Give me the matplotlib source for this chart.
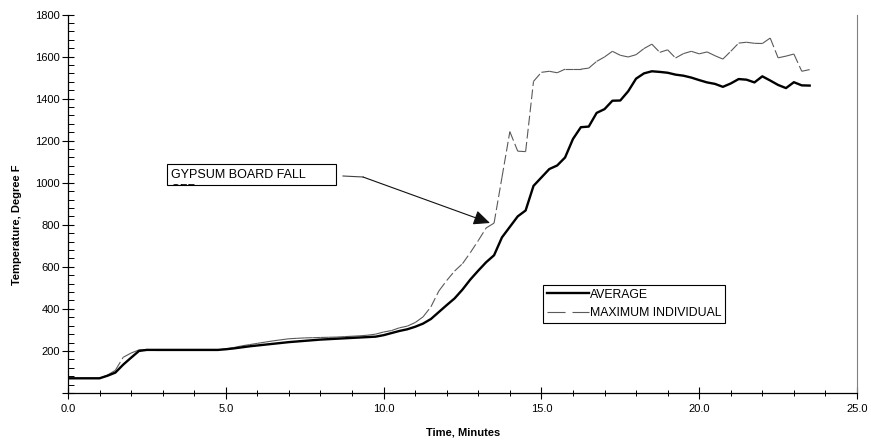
"""
Room temperature vs time during the fire test: average and maximum individual thermocouple.
"""

import matplotlib
matplotlib.use("Agg")
import matplotlib.pyplot as plt
import numpy as np
from matplotlib.collections import LineCollection
from matplotlib.lines import Line2D
from matplotlib.patches import Rectangle

plt.rcParams['font.family'] = ['Liberation Sans', 'DejaVu Sans']
plt.rcParams['lines.scale_dashes'] = False

# time in minutes, one reading every 15 s
time_min = np.arange(0, 23.51, 0.25)

average = [
    70, 70, 70, 70, 70, 82, 97, 135, 168, 200,            # 0.00 - 2.25
    205, 205, 205, 205, 205, 205, 205, 205, 205, 205,     # 2.50 - 4.75
    208, 212, 217, 222, 226, 230, 234, 238, 242, 245,     # 5.00 - 7.25
    248, 251, 254, 256, 258, 260, 262, 264, 266, 268,     # 7.50 - 9.75
    275, 285, 295, 303, 315, 330, 352, 385, 418, 450,     # 10.00 - 12.25
    492, 540, 582, 622, 655, 740, 790, 840, 868, 985,     # 12.50 - 14.75
    1025, 1065, 1082, 1120, 1208, 1264, 1267, 1332, 1350, 1390,  # 15.00 - 17.25
    1391, 1435, 1495, 1520, 1530, 1527, 1523, 1514, 1509, 1500,  # 17.50 - 19.75
    1488, 1477, 1470, 1456, 1472, 1493, 1490, 1477, 1506, 1486,  # 20.00 - 22.25
    1465, 1450, 1478, 1463, 1462,                                # 22.50 - 23.50
]

maximum = [
    70, 70, 70, 70, 70, 85, 108, 170, 190, 205,
    207, 205, 205, 205, 205, 205, 205, 205, 205, 205,
    210, 216, 224, 230, 236, 242, 248, 253, 258, 260,
    262, 263, 264, 265, 266, 268, 270, 272, 275, 280,
    290, 297, 310, 318, 335, 362, 410, 485, 535, 580,
    615, 668, 725, 785, 808, 1025, 1243, 1150, 1148, 1482,
    1525, 1530, 1523, 1540, 1540, 1540, 1545, 1577, 1598, 1625,
    1606, 1598, 1609, 1638, 1659, 1620, 1632, 1593, 1614, 1625,
    1613, 1622, 1604, 1588, 1625, 1664, 1668, 1663, 1662, 1688,
    1594, 1602, 1612, 1530, 1538,
]

x_ticks = [0, 5, 10, 15, 20, 25]
y_ticks = [0, 200, 400, 600, 800, 1000, 1200, 1400, 1600, 1800]

W, H = 871, 444
fig = plt.figure(figsize=(W / 100, H / 100), dpi=100)
ax = fig.add_axes([68 / W, 1 - 393 / H, (857 - 68) / W, (393 - 14.5) / H])

MAX_COLOR = '#5a5a5a'

# Excel restarts the dash pattern on every segment, so short steps look solid
pts = np.column_stack([time_min, maximum])
segs = np.stack([pts[:-1], pts[1:]], axis=1)
ax.add_collection(LineCollection(segs, colors=MAX_COLOR, linewidths=0.8,
                                 linestyles=[(0, (7, 2.5))], zorder=2))
ax.plot(time_min, average, color='black', lw=1.7, zorder=3)

ax.set_xlim(0, 25)
ax.set_ylim(0, 1800)
ax.set_xticks(x_ticks)
ax.set_xticklabels([f'{v:.1f}' for v in x_ticks])
ax.set_xticks(np.arange(0, 25.1, 1), minor=True)
ax.set_yticks(y_ticks)
ax.set_yticklabels(['' if v == 0 else str(v) for v in y_ticks])
ax.set_yticks(np.arange(0, 1801, 40), minor=True)

ax.tick_params(axis='both', which='major', direction='inout', length=8, width=0.8,
               labelsize=8, colors='black')
ax.tick_params(axis='y', which='major', pad=2)
ax.tick_params(axis='x', which='major', pad=4)
ax.tick_params(axis='y', which='minor', direction='in', length=4, width=0.7)
ax.tick_params(axis='x', which='minor', direction='inout', length=4, width=0.7)

ax.spines['top'].set_visible(False)
ax.spines['right'].set_color('#808080')
ax.spines['right'].set_linewidth(0.8)
for side in ('left', 'bottom'):
    ax.spines[side].set_linewidth(0.9)

label_font = ['Liberation Sans Narrow', 'Liberation Sans', 'DejaVu Sans']
fig.text(463 / W, 1 - 432 / H, 'Time, Minutes', ha='center', va='center',
         fontsize=8, fontweight='bold', family=label_font)
fig.text(17 / W, 1 - 225 / H, 'Temperature, Degree F', ha='center', va='center',
         rotation=90, fontsize=8, fontweight='bold', family=label_font)

# annotation box, second line of its text is cut off by the box edge
box = Rectangle((167 / W, 1 - 185 / H), (336 - 167) / W, (185 - 164) / H,
                transform=fig.transFigure, facecolor='white', edgecolor='black',
                linewidth=0.8, zorder=4)
fig.add_artist(box)
fig.text(171 / W, 1 - 174.5 / H, 'GYPSUM BOARD FALL', ha='left', va='center',
         fontsize=9, zorder=5)
cut = fig.text(170 / W, 1 - 184 / H, 'OFF', ha='left', va='top',
               fontsize=9, zorder=5)
cut.set_clip_path(box)

def px_to_data(px, py):
    return ax.transData.inverted().transform(fig.transFigure.transform((px / W, 1 - py / H)))

p0 = px_to_data(343, 176)
p1 = px_to_data(363, 177)
tip = px_to_data(490, 223)
ax.plot([p0[0], p1[0]], [p0[1], p1[1]], color='#404040', lw=0.8, zorder=4, clip_on=False)
ax.annotate('', xy=tip, xytext=p1,
            arrowprops=dict(arrowstyle='-|>,head_length=1.0,head_width=0.45',
                            color='#101010', lw=0.8, shrinkA=0, shrinkB=0), zorder=4)

handles = [
    Line2D([], [], color='black', lw=1.7),
    Line2D([], [], color=MAX_COLOR, lw=0.8, linestyle=(0, (13, 5))),
]
leg = fig.legend(handles, ['AVERAGE', 'MAXIMUM INDIVIDUAL'], loc='upper left',
                 bbox_to_anchor=(543 / W, 1 - 285 / H), bbox_transform=fig.transFigure,
                 fontsize=8.8, frameon=True, fancybox=False, framealpha=1,
                 handlelength=3.5, handletextpad=0.05, labelspacing=0.55,
                 borderpad=0.3, borderaxespad=0)
leg.get_frame().set_edgecolor('black')
leg.get_frame().set_linewidth(0.8)

fig.savefig('out.png', dpi=100)
